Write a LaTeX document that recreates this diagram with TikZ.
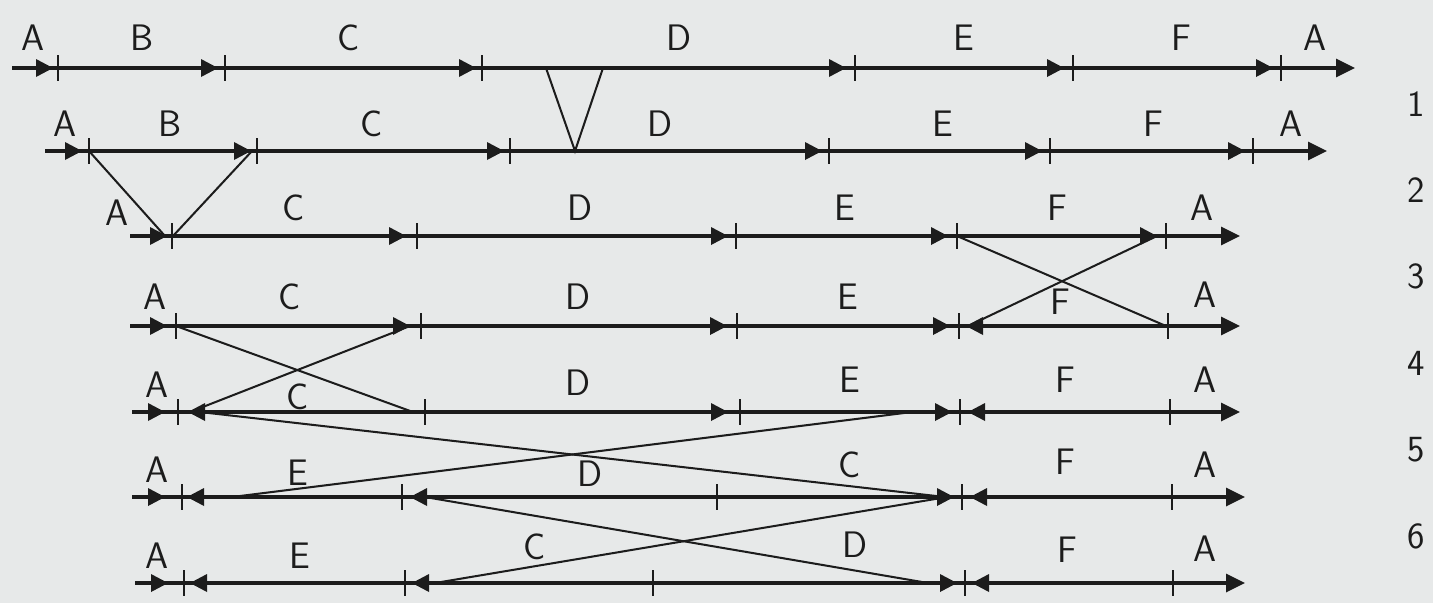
\documentclass[tikz,border=0pt]{standalone}
\usepackage{tikz}
\usetikzlibrary{arrows.meta}
\definecolor{paper}{RGB}{231,233,233}
\definecolor{ink}{RGB}{28,28,28}

\begin{document}
\begin{tikzpicture}[x=0.02cm,y=-0.02cm,
    chrom/.style={ink,line width=1.9pt,-{Triangle[length=0.38cm,width=0.36cm]}},
    link/.style={ink,line width=1.15pt},
    lbl/.style={ink,font=\sffamily\fontsize{21}{23}\selectfont,inner sep=0pt},
    pics/fwd/.style={code={\fill[ink] (0,0) -- (-17,-9) -- (-17,9) -- cycle;}},
    pics/bwd/.style={code={\fill[ink] (0,0) -- (17,-9) -- (17,9) -- cycle;}},
    pics/brk/.style={code={\draw[ink,line width=1.2pt] (0,-13) -- (0,13);}}]
  \fill[paper] (0,0) rectangle (1433,603);

  % row 0
  \coordinate (s0) at (12,68); \coordinate (e0) at (1355,68);
  \draw[chrom] (s0) -- (e0);
  \pic at (53,68) {fwd}; \pic at (58,68) {brk};
  \pic at (218,68) {fwd}; \pic at (225,68) {brk};
  \pic at (476,68) {fwd}; \pic at (482,68) {brk};
  \pic at (846,68) {fwd}; \pic at (855,68) {brk};
  \pic at (1064,68) {fwd}; \pic at (1073,68) {brk};
  \pic at (1273,68) {fwd}; \pic at (1281,68) {brk};
  \node[lbl] (a0) at (33,38) {A}; \node[lbl] (b0) at (142,38) {B};
  \node[lbl] (c0) at (349,38) {C}; \node[lbl] (d0) at (679,38) {D};
  \node[lbl] (e0l) at (964,38) {E}; \node[lbl] (f0) at (1181,38) {F};
  \node[lbl] (a0r) at (1315,38) {A};

  % row 1
  \coordinate (s1) at (45,151); \coordinate (e1) at (1327,151);
  \draw[chrom] (s1) -- (e1);
  \pic at (82,151) {fwd}; \pic at (89,151) {brk};
  \pic at (251,151) {fwd}; \pic at (257,151) {brk};
  \pic at (504,151) {fwd}; \pic at (510,151) {brk};
  \pic at (822,151) {fwd}; \pic at (829,151) {brk};
  \pic at (1042,151) {fwd}; \pic at (1050,151) {brk};
  \pic at (1245,151) {fwd}; \pic at (1253,151) {brk};
  \node[lbl] (a1) at (65,124) {A}; \node[lbl] (b1) at (170,124) {B};
  \node[lbl] (c1) at (372,124) {C}; \node[lbl] (d1) at (660,124) {D};
  \node[lbl] (e1l) at (943,124) {E}; \node[lbl] (f1) at (1153,124) {F};
  \node[lbl] (a1r) at (1291,124) {A};

  % row 2
  \coordinate (s2) at (130,236); \coordinate (e2) at (1240,236);
  \draw[chrom] (s2) -- (e2);
  \pic at (167,236) {fwd}; \pic at (172,236) {brk};
  \pic at (406,236) {fwd}; \pic at (417,236) {brk};
  \pic at (728,236) {fwd}; \pic at (736,236) {brk};
  \pic at (948,236) {fwd}; \pic at (957,236) {brk};
  \pic at (1157,236) {fwd}; \pic at (1166,236) {brk};
  \node[lbl] (a2) at (117,213) {A}; \node[lbl] (c2) at (294,208) {C};
  \node[lbl] (d2) at (580,208) {D}; \node[lbl] (e2l) at (845,208) {E};
  \node[lbl] (f2) at (1057,208) {F}; \node[lbl] (a2r) at (1202,208) {A};

  % row 3
  \coordinate (s3) at (130,326); \coordinate (e3) at (1240,326);
  \draw[chrom] (s3) -- (e3);
  \pic at (167,326) {fwd}; \pic at (176,326) {brk};
  \pic at (410,326) {fwd}; \pic at (421,326) {brk};
  \pic at (727,326) {fwd}; \pic at (737,326) {brk};
  \pic at (950,326) {fwd}; \pic at (959,326) {brk}; \pic at (966,326) {bwd};
  \pic at (1168,326) {brk};
  \node[lbl] (a3) at (155,297) {A}; \node[lbl] (c3) at (290,297) {C};
  \node[lbl] (d3) at (578,297) {D}; \node[lbl] (e3l) at (848,297) {E};
  \node[lbl] (f3) at (1060,302) {F}; \node[lbl] (a3r) at (1205,295) {A};

  % row 4
  \coordinate (s4) at (132,412); \coordinate (e4) at (1240,412);
  \draw[chrom] (s4) -- (e4);
  \pic at (165,412) {fwd}; \pic at (178,412) {brk}; \pic at (188,412) {bwd};
  \pic at (425,412) {brk};
  \pic at (728,412) {fwd}; \pic at (740,412) {brk};
  \pic at (952,412) {fwd}; \pic at (960,412) {brk}; \pic at (968,412) {bwd};
  \pic at (1170,412) {brk};
  \node[lbl] (a4) at (157,385) {A}; \node[lbl] (c4) at (298,397) {C};
  \node[lbl] (d4) at (578,383) {D}; \node[lbl] (e4l) at (850,380) {E};
  \node[lbl] (f4) at (1065,380) {F}; \node[lbl] (a4r) at (1205,380) {A};

  % row 5
  \coordinate (s5) at (132,497); \coordinate (e5) at (1245,497);
  \draw[chrom] (s5) -- (e5);
  \pic at (165,497) {fwd}; \pic at (182,497) {brk}; \pic at (187,497) {bwd};
  \pic at (402,497) {brk}; \pic at (410,497) {bwd};
  \pic at (717,497) {brk};
  \pic at (954,497) {fwd}; \pic at (962,497) {brk}; \pic at (970,497) {bwd};
  \pic at (1172,497) {brk};
  \node[lbl] (a5) at (157,470) {A}; \node[lbl] (e5l) at (298,473) {E};
  \node[lbl] (d5) at (590,474) {D}; \node[lbl] (c5) at (850,465) {C};
  \node[lbl] (f5) at (1065,462) {F}; \node[lbl] (a5r) at (1205,465) {A};

  % row 6
  \coordinate (s6) at (135,583); \coordinate (e6) at (1245,583);
  \draw[chrom] (s6) -- (e6);
  \pic at (168,583) {fwd}; \pic at (184,583) {brk}; \pic at (190,583) {bwd};
  \pic at (405,583) {brk}; \pic at (412,583) {bwd};
  \pic at (653,583) {brk};
  \pic at (957,583) {fwd}; \pic at (965,583) {brk}; \pic at (972,583) {bwd};
  \pic at (1173,583) {brk};
  \node[lbl] (a6) at (157,556) {A}; \node[lbl] (e6l) at (300,556) {E};
  \node[lbl] (c6) at (535,547) {C}; \node[lbl] (d6) at (855,545) {D};
  \node[lbl] (f6) at (1067,550) {F}; \node[lbl] (a6r) at (1205,549) {A};

  % break points
  \coordinate (p0a) at (546,68); \coordinate (p0b) at (603,68); \coordinate (p1) at (575,151);
  \coordinate (p1a) at (89,151); \coordinate (p1b) at (252,151);
  \coordinate (p2a) at (165,236); \coordinate (p2b) at (173,236);
  \coordinate (p2c) at (957,236); \coordinate (p2d) at (1157,236);
  \coordinate (p3a) at (1166,326); \coordinate (p3b) at (968,326);
  \coordinate (p3c) at (176,326); \coordinate (p3d) at (410,326);
  \coordinate (p4a) at (413,412); \coordinate (p4b) at (190,412);
  \coordinate (p4c) at (200,412); \coordinate (p4d) at (912,412);
  \coordinate (p5a) at (945,497); \coordinate (p5b) at (232,497);
  \coordinate (p5c) at (425,497); \coordinate (p5d) at (947,497);
  \coordinate (p6a) at (928,583); \coordinate (p6b) at (435,583);

  \draw[link] (p0a) -- (p1) -- (p0b);
  \draw[link] (p1a) -- (p2a); \draw[link] (p1b) -- (p2b);
  \draw[link] (p2c) -- (p3a); \draw[link] (p2d) -- (p3b);
  \draw[link] (p3c) -- (p4a); \draw[link] (p3d) -- (p4b);
  \draw[link] (p4c) -- (p5a); \draw[link] (p4d) -- (p5b);
  \draw[link] (p5c) -- (p6a); \draw[link] (p5d) -- (p6b);

  % line numbers
  \node[lbl] (n1) at (1416,104) {1}; \node[lbl] (n2) at (1416,190) {2};
  \node[lbl] (n3) at (1416,276) {3}; \node[lbl] (n4) at (1416,363) {4};
  \node[lbl] (n5) at (1416,450) {5}; \node[lbl] (n6) at (1416,536) {6};
\end{tikzpicture}
\end{document}
